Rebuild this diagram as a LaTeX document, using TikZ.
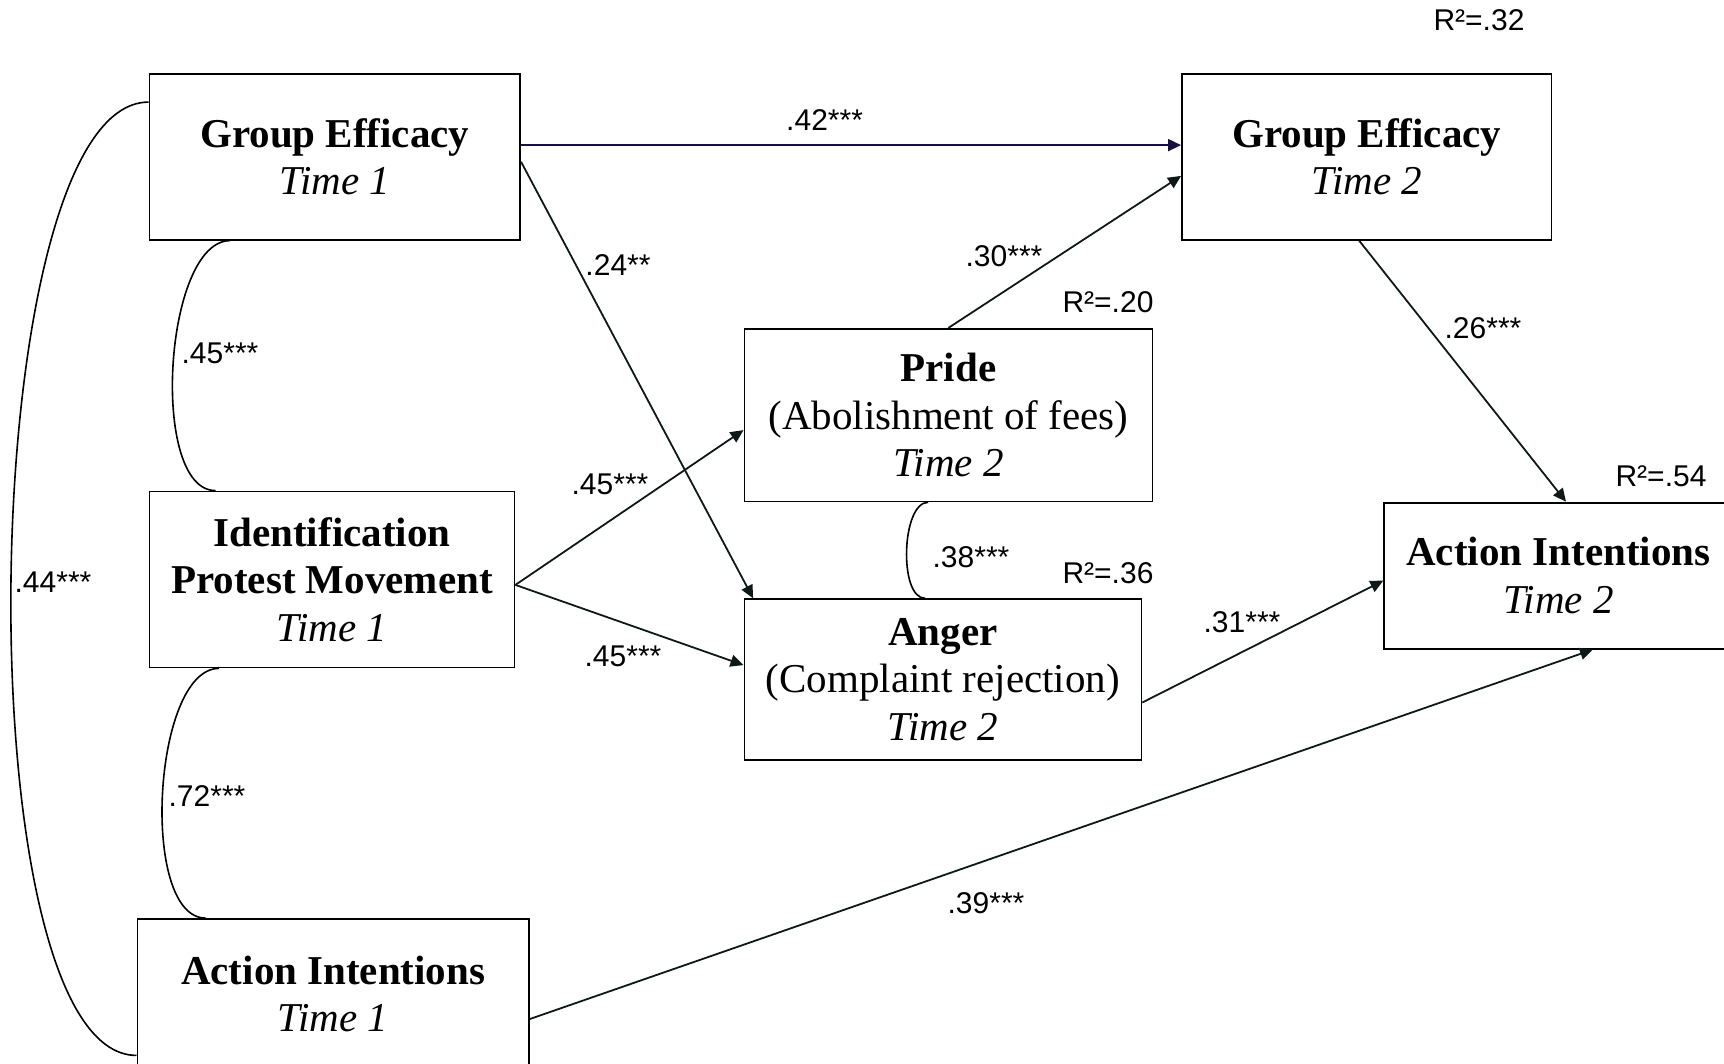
\documentclass[tikz,border=0pt]{standalone}
\usepackage{fontspec}
\setmainfont{Liberation Serif}
\newfontfamily\sansLabel{Liberation Sans}
\usetikzlibrary{arrows.meta}
\definecolor{tintaNegra}{HTML}{0F1818}
\definecolor{tintaAzul}{HTML}{1A1040}
\colorlet{colCaja}{black}
\colorlet{colFlecha}{tintaNegra}
\colorlet{colFlechaDirecta}{tintaAzul}
\tikzset{
  boxVar/.style={
    draw=colCaja, line width=0.9pt, inner sep=0pt,
    align=center, font=\fontsize{20.5}{23.8}\selectfont
  },
  pathArrow/.style={-{Triangle[length=6.5pt,width=6pt]}, line width=0.9pt, colFlecha},
  pathArrowDirect/.style={pathArrow, colFlechaDirecta},
  pathCorr/.style={line width=0.8pt, black},
  coefLabel/.style={font=\sansLabel\fontsize{15}{18}\selectfont, inner sep=0pt},
}
\begin{document}
\begin{tikzpicture}[x=0.5pt, y=-0.5pt]
  \useasboundingbox (0,0) rectangle (1724,1064);

  % Time 1
  \node[boxVar, minimum width=185.3pt, minimum height=83pt] (ge1) at (334.8,156.7)
    {\textbf{Group Efficacy}\\\textit{Time 1}};
  \node[boxVar, minimum width=182.5pt, minimum height=88pt] (ipm1) at (332,579.5)
    {\textbf{Identification}\\\textbf{Protest Movement}\\\textit{Time 1}};
  \node[boxVar, minimum width=195.8pt, minimum height=75pt] (ai1) at (333.2,994)
    {\textbf{Action Intentions}\\\textit{Time 1}};

  % Time 2
  \node[boxVar, minimum width=204pt, minimum height=86.3pt] (pride2) at (948.4,415.1)
    {\textbf{Pride}\\(Abolishment of fees)\\\textit{Time 2}};
  \node[boxVar, minimum width=198.5pt, minimum height=80.3pt] (anger2) at (942.9,679.5)
    {\textbf{Anger}\\(Complaint rejection)\\\textit{Time 2}};
  \node[boxVar, minimum width=184.7pt, minimum height=83pt] (ge2) at (1366.7,156.7)
    {\textbf{Group Efficacy}\\\textit{Time 2}};
  \node[boxVar, minimum width=174pt, minimum height=73pt] (ai2) at (1558.3,575.6)
    {\textbf{Action Intentions}\\\textit{Time 2}};

  % paths
  \draw[pathArrowDirect] ([yshift=5.8pt]ge1.east) -- ([yshift=5.8pt]ge2.west);
  \draw[pathArrow] ([yshift=-2.5pt]ge1.east) -- ([xshift=4.8pt]anger2.north west);
  \draw[pathArrow] ([yshift=-2.7pt]ipm1.east) -- ([yshift=-7.5pt]pride2.west);
  \draw[pathArrow] ([yshift=-2.7pt]ipm1.east) -- ([yshift=7.2pt]anger2.west);
  \draw[pathArrow] (pride2.north) -- ([yshift=-9.6pt]ge2.west);
  \draw[pathArrow] ([xshift=-3.8pt]ge2.south) -- ([xshift=91.3pt]ai2.north west);
  \draw[pathArrow] ([yshift=-11.5pt]anger2.east) -- ([yshift=-2.5pt]ai2.west);
  \draw[pathArrow] ([yshift=-12.5pt]ai1.east) -- ([xshift=104.8pt]ai2.south west);

  % correlations
  \draw[pathCorr] ([xshift=40.8pt]ge1.south west) to[out=180, in=180, looseness=0.68]
    ([xshift=33.5pt]ipm1.north west);
  \draw[pathCorr] ([xshift=35.2pt]ipm1.south west) to[out=180, in=180, looseness=0.68]
    ([xshift=34.6pt]ai1.north west);
  \draw[pathCorr] ([xshift=92.3pt]pride2.south west) to[out=180, in=180, looseness=0.71]
    ([xshift=90.8pt]anger2.north west);
  \draw[pathCorr] ([yshift=27.3pt]ge1.west) to[out=180, in=180, looseness=0.47]
    ([yshift=-30.7pt]ai1.west);

  % coefficients
  \node[coefLabel] (c42) at (824.6,120) {.42***};
  \node[coefLabel] (c24) at (618,265) {.24**};
  \node[coefLabel] (c45a) at (220,353) {.45***};
  \node[coefLabel] (c30) at (1004,256) {.30***};
  \node[coefLabel] (c26) at (1483,328) {.26***};
  \node[coefLabel] (c45b) at (610,484) {.45***};
  \node[coefLabel] (c45c) at (623,656) {.45***};
  \node[coefLabel] (c38) at (971,557) {.38***};
  \node[coefLabel] (c31) at (1242,622) {.31***};
  \node[coefLabel] (c44) at (53,582) {.44***};
  \node[coefLabel] (c72) at (207,796) {.72***};
  \node[coefLabel] (c39) at (986,903) {.39***};

  % explained variance
  \node[coefLabel] (r32) at (1479,20) {R²=.32};
  \node[coefLabel] (r20) at (1108,302) {R²=.20};
  \node[coefLabel] (r36) at (1108,573) {R²=.36};
  \node[coefLabel] (r54) at (1661,476) {R²=.54};
\end{tikzpicture}
\end{document}
